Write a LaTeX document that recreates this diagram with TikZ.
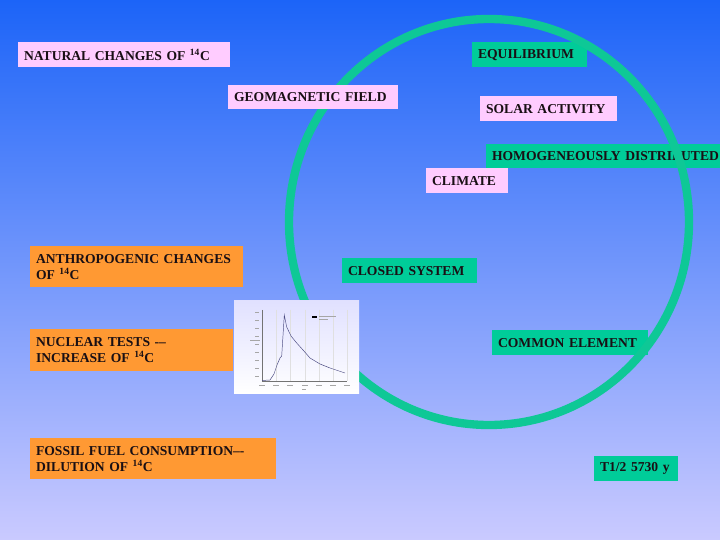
\documentclass[tikz,border=0pt]{standalone}
\usepackage{fontspec}
\setmainfont{Liberation Serif}
\usetikzlibrary{positioning}
\definecolor{bgtop}{RGB}{28,100,248}
\definecolor{bgbottom}{RGB}{202,202,255}
\definecolor{pinkbox}{RGB}{255,204,255}
\definecolor{tealbox}{RGB}{0,204,153}
\definecolor{orangebox}{RGB}{255,153,51}
\definecolor{ringcol}{RGB}{14,200,150}
\definecolor{inktext}{RGB}{25,15,20}

\begin{document}
\begin{tikzpicture}[x=0.03cm, y=-0.03cm,
  tag/.style={fill=#1, anchor=north west, align=left, text=inktext,
              inner xsep=5pt, inner ysep=0pt,
              font=\bfseries\fontsize{11.6}{13.6}\selectfont},
  tag/.default=pinkbox,
  ring/.style={draw=ringcol, line width=0.25cm},
  axis/.style={draw=black!55, line width=0.3pt},
  grid/.style={draw=black!12, line width=0.3pt},
  tick/.style={draw=black!35, line width=0.5pt},
  curve/.style={draw=blue!30!black!70, line width=0.4pt}]

\useasboundingbox (0,0) rectangle (720,540);
\clip (0,0) rectangle (720,540);
\shade[top color=bgtop, bottom color=bgbottom] (0,0) rectangle (720,540);

% properties of the element (under the ring)
\node[tag=tealbox, text width=3.10cm, minimum height=0.75cm] (equil) at (472,42)
  {EQUILIBRIUM};
\node[tag=tealbox, text width=9cm, minimum height=0.72cm] (homog) at (486,144)
  {HOMOGENEOUSLY DISTRIBUTED};
\node[tag=tealbox, text width=3.70cm, minimum height=0.75cm] (closed) at (342,258)
  {CLOSED SYSTEM};
\node[tag=tealbox, text width=4.33cm, minimum height=0.75cm] (common) at (492,330)
  {COMMON ELEMENT};
\node[tag=tealbox, text width=2.17cm, minimum height=0.75cm] (halflife) at (594,456)
  {T1/2 5730 y};

\draw[ring] (489,222) ellipse [x radius=200, y radius=203];

% natural side
\node[tag, text width=6.01cm, minimum height=0.75cm] (natural) at (18,42)
  {NATURAL CHANGES OF \textsuperscript{14}C};
\node[tag, text width=4.75cm, minimum height=0.72cm] (geomag) at (228,85)
  {GEOMAGNETIC FIELD};
\node[tag, text width=3.76cm, minimum height=0.75cm] (solar) at (480,96)
  {SOLAR ACTIVITY};
\node[tag, text width=2.11cm, minimum height=0.75cm] (climate) at (426,168)
  {CLIMATE};

% anthropogenic side
\node[tag=orangebox, text width=6.04cm, minimum height=1.23cm] (anthro) at (30,246)
  {ANTHROPOGENIC CHANGES\\OF \textsuperscript{14}C};
\node[tag=orangebox, text width=5.74cm, minimum height=1.26cm] (nuclear) at (30,329)
  {NUCLEAR TESTS -{}--\\INCREASE OF \textsuperscript{14}C};
\node[tag=orangebox, text width=7.03cm, minimum height=1.23cm] (fossil) at (30,438)
  {FOSSIL FUEL CONSUMPTION--{}-\\DILUTION OF \textsuperscript{14}C};

% bomb curve picture
\node[anchor=north west, minimum width=3.75cm, minimum height=2.79cm,
      inner sep=0pt, top color=blue!12!white, bottom color=white] (chart) at (234,300) {};
\foreach \gx in {276,290,305,319,333,347}
  \draw[grid] (\gx,310) -- (\gx,381);
\draw[axis] (262,310) -- (262,381) -- (347,381);
\foreach \gx in {262,276,290,305,319,333,347}
  \draw[tick] (\gx-3,385) -- (\gx+3,385);
\foreach \gy in {312,320,328,336,344,352,360,368,376}
  \draw[tick] (255,\gy) -- (259,\gy);
\draw[tick] (250,340) -- (260,340);
\draw[tick] (302,389) -- (306,389);
\draw[curve] (262,380.5) -- (270,380) -- (274,374) -- (277,365) -- (280,358)
  -- (281.7,356) -- (284.3,315) -- (286.7,327) -- (291,336) -- (296.7,343)
  -- (303,350) -- (310,358) -- (320,364) -- (330,368) -- (345,373);
\draw[draw=black, line width=1pt] (312,317) -- (317,317);
\draw[tick] (319,316) -- (336,316);
\draw[tick] (319,319) -- (328,319);
\end{tikzpicture}
\end{document}
